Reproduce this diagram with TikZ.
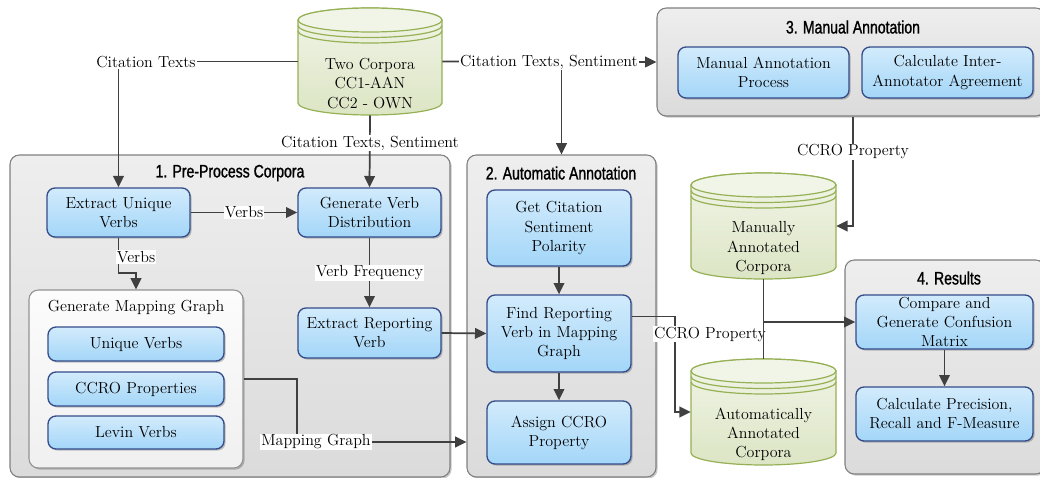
\documentclass[tikz,border=0pt]{standalone}
\usepackage{fontspec}
\newfontfamily\headfont[FakeStretch=0.78,FakeBold=1.2]{Liberation Sans}
\usetikzlibrary{arrows.meta,shadows,calc}

\definecolor{bluetop}{RGB}{210,235,252}
\definecolor{bluebot}{RGB}{163,214,248}
\definecolor{blueedge}{RGB}{52,76,138}
\definecolor{grptop}{RGB}{238,238,238}
\definecolor{grpbot}{RGB}{219,219,219}
\definecolor{grpedge}{RGB}{128,128,128}
\definecolor{subtop}{RGB}{252,252,252}
\definecolor{subbot}{RGB}{240,240,240}
\definecolor{dbtopc}{RGB}{241,245,232}
\definecolor{dbbotc}{RGB}{220,229,196}
\definecolor{dbedge}{RGB}{150,176,84}
\definecolor{wire}{RGB}{64,64,64}

% cylinder store: name, centre x, centre y, width, height, text
\newcommand\datastore[6]{%
  \pgfmathsetmacro\dsa{#4/2}%
  \pgfmathsetmacro\dsb{#5/2}%
  \pgfmathsetmacro\dsrx{#4*0.375}%
  \path[dbbody] (#2-\dsa,#3-\dsb+12) -- (#2-\dsa,#3+\dsb-12)
     arc[start angle=180,end angle=360,x radius=\dsrx pt,y radius=9pt]
     -- (#2+\dsa,#3-\dsb+12)
     arc[start angle=0,end angle=180,x radius=\dsrx pt,y radius=9pt] -- cycle;
  \path[dblid] (#2,#3-\dsb+12) ellipse[x radius=\dsrx pt,y radius=9pt];
  \draw[dbring] (#2-\dsa,#3-\dsb+17.5) arc[start angle=180,end angle=360,x radius=\dsrx pt,y radius=9pt];
  \draw[dbring] (#2-\dsa,#3-\dsb+23) arc[start angle=180,end angle=360,x radius=\dsrx pt,y radius=9pt];
  \node[inner sep=0pt, minimum width=#4*0.75pt, minimum height=#5*0.75pt] (#1) at (#2,#3) {};
  \node[txt, align=center, inner sep=0pt] (#1-text) at (#2,#3+22) {#6};
}

\tikzset{
  txt/.style={font=\fontsize{12}{14.3}\selectfont},
  boxshadow/.style={drop shadow={shadow xshift=1.2pt, shadow yshift=-1.2pt, opacity=0.22, fill=black}},
  bbox/.style 2 args={draw=blueedge, line width=1pt, rounded corners=6pt,
    top color=bluetop, bottom color=bluebot, align=center, inner sep=0pt,
    minimum width=#1*0.75pt, minimum height=#2*0.75pt, boxshadow, txt},
  grp/.style 2 args={draw=grpedge, line width=0.8pt, rounded corners=7pt,
    top color=grptop, bottom color=grpbot, inner sep=0pt,
    minimum width=#1*0.75pt, minimum height=#2*0.75pt, boxshadow},
  sub/.style 2 args={draw=grpedge!85, line width=0.8pt, rounded corners=7pt,
    top color=subtop, bottom color=subbot, inner sep=0pt,
    minimum width=#1*0.75pt, minimum height=#2*0.75pt, boxshadow},
  head/.style={font=\headfont\fontsize{13.5}{16}\selectfont, inner sep=0pt},
  dbbody/.style={draw=dbedge, line width=0.9pt, top color=dbtopc, bottom color=dbbotc},
  dblid/.style={draw=dbedge, line width=0.9pt, fill=dbtopc},
  dbring/.style={draw=dbedge, line width=0.9pt},
  wireline/.style={draw=wire, line width=1.3pt},
  flow/.style={wireline, -{Triangle[length=8.5pt,width=8pt]}},
  lbl/.style={fill=white, inner sep=0.8pt, txt},
}

\begin{document}
\begin{tikzpicture}[x=0.75pt,y=-0.75pt]
\useasboundingbox (0,0) rectangle (1040,478);

% stage containers
\node[grp={440}{322}] (g1) at (230,316) {};
\node[grp={189}{322}] (g2) at (561.5,316) {};
\node[grp={388}{108}] (g3) at (851,62) {};
\node[grp={200}{214}] (g4) at (945,367) {};
\node[sub={214}{178}] (gmg) at (136,379) {};

\node[head] (t1) at (230,173) {1. Pre-Process Corpora};
\node[head] (t2) at (561,173) {2. Automatic Annotation};
\node[head] (t3) at (853,27) {3. Manual Annotation};
\node[head] (t4) at (949,278) {4. Results};
\node[txt, inner sep=0pt] (tg) at (136,308) {Generate Mapping Graph};

% stage 1
\node[bbox={143}{49}] (eu) at (118.5,212.5) {Extract Unique\\Verbs};
\node[bbox={143}{49}] (gvd) at (369.5,212.5) {Generate Verb\\Distribution};
\node[bbox={143}{50}] (erv) at (369.5,333) {Extract Reporting\\Verb};
\node[bbox={176}{34}] (uv) at (136,344) {Unique Verbs};
\node[bbox={176}{34}] (cp) at (136,389) {CCRO Properties};
\node[bbox={176}{33}] (lv) at (136,432.5) {Levin Verbs};

% stage 2
\node[bbox={144}{76}] (gcs) at (559,228) {Get Citation\\Sentiment\\Polarity};
\node[bbox={144}{77}] (frv) at (559,333.5) {Find Reporting\\Verb in Mapping\\Graph};
\node[bbox={144}{63}] (acp) at (559,432.5) {Assign CCRO\\Property};

% stage 3
\node[bbox={171}{51}] (map) at (763.5,72.5) {Manual Annotation\\Process};
\node[bbox={171}{51}] (cia) at (947.5,72.5) {Calculate Inter-\\Annotator Agreement};

% stage 4
\node[bbox={177}{54}] (cmp) at (944.5,322) {Compare and\\Generate Confusion\\Matrix};
\node[bbox={177}{54}] (cpr) at (944.5,414) {Calculate Precision,\\Recall and F-Measure};

% corpora
\datastore{src}{370}{61.5}{144}{107}{Two Corpora\\CC1-AAN\\CC2 - OWN}
\datastore{mac}{763.5}{226}{145}{106}{Manually\\Annotated\\Corpora}
\datastore{aac}{763.5}{412}{145}{106}{Automatically\\Annotated\\Corpora}

% connectors
\draw[flow] (src.west) -| (eu.north);
\node[lbl] (l1) at (146,62) {Citation Texts};

\draw[flow] (src.east) -- (g3.west);
\draw[flow] (g2.north |- src.east) -- (g2.north);
\node[lbl] (l2) at (549,62) {Citation Texts, Sentiment};

\draw[flow] (src.south) -- (gvd.north);
\node[lbl] (l3) at (370,143) {Citation Texts, Sentiment};

\draw[flow] (eu.east) -- (gvd.west);
\node[lbl] (l4) at (244,212.5) {Verbs};

\draw[flow] (gvd.south) -- (erv.north);
\node[lbl] (l5) at (369.5,273) {Verb Frequency};

\draw[flow] (eu.south) -- ++(0,35) -| (gmg.north);
\node[lbl] (l6) at (136,257) {Verbs};

\coordinate (mgbend) at (297,442);
\draw[flow] (gmg.east) -| (mgbend) -- (g2.west |- mgbend);
\node[lbl] (l7) at (316,442) {Mapping Graph};

\draw[flow] (erv.east) -- (frv.west);
\draw[flow] (gcs.south) -- (frv.north);
\draw[flow] (frv.south) -- (acp.north);

\draw[flow] ([yshift=12.75pt]frv.east) -- ++(43,0) |- (aac.west);
\node[lbl] (l8) at (710,334) {CCRO Property};

\draw[flow] ([xshift=1.5pt]g3.south) |- (mac.east);
\node[lbl] (l9) at (853,152) {CCRO Property};

\draw[wireline] (mac.south) -- (aac.north);
\draw[flow] (mac.south |- cmp.west) -- (cmp.west);

\draw[flow] (cmp.south) -- (cpr.north);
\end{tikzpicture}
\end{document}
